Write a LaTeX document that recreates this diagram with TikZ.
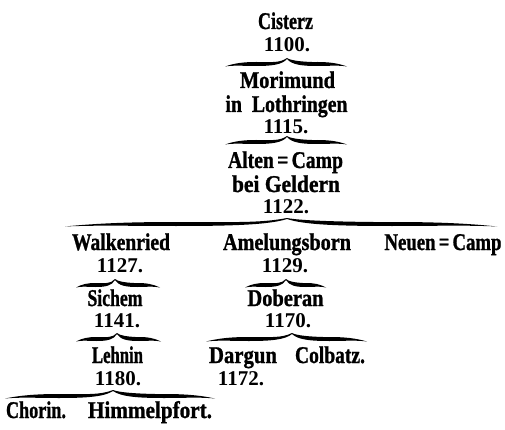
\documentclass[tikz,border=0pt]{standalone}
\usepackage{fontspec}
\usepackage{graphicx}
\newfontfamily\hvfont{Liberation Serif}[UprightFont=* Bold, FakeBold=1.2]
\newfontfamily\numfont{Liberation Serif}[UprightFont=* Bold]
\newcommand\fw[2]{\resizebox{#1pt}{\height}{#2}}
% curly brace pointing up: x-left, x-right, x-peak, y of body
\newcommand\fbr[4]{%
  \pgfmathsetmacro\bL{#3-#1}%
  \pgfmathsetmacro\bR{#2-#3}%
  \fill (#1,{#4+2.5})
    .. controls ({#1+0.15*\bL},{#4-0.8}) and ({#1+0.3*\bL},{#4-2}) .. ({#1+0.5*\bL},{#4-2})
    .. controls ({#1+0.75*\bL},{#4-2}) and ({#3-0.12*\bL},{#4-0.8}) .. (#3,{#4-6})
    .. controls ({#3+0.12*\bR},{#4-0.8}) and ({#2-0.25*\bR},{#4-2}) .. ({#2-0.5*\bR},{#4-2})
    .. controls ({#2-0.3*\bR},{#4-2}) and ({#2-0.15*\bR},{#4-0.8}) .. (#2,{#4+2.5})
    .. controls ({#2-0.15*\bR},{#4+1}) and ({#2-0.3*\bR},{#4+2}) .. ({#2-0.5*\bR},{#4+2})
    .. controls ({#2-0.75*\bR},{#4+2}) and ({#3+0.08*\bR},{#4+0.8}) .. (#3,{#4-5})
    .. controls ({#3-0.08*\bL},{#4+0.8}) and ({#1+0.75*\bL},{#4+2}) .. ({#1+0.5*\bL},{#4+2})
    .. controls ({#1+0.3*\bL},{#4+2}) and ({#1+0.15*\bL},{#4+1}) .. (#1,{#4+2.5}) -- cycle;}
\begin{document}
\begin{tikzpicture}[x=1pt,y=-1pt,
  fk/.style={anchor=base,inner sep=0pt,font=\fontsize{24}{27}\selectfont\hvfont},
  nm/.style={anchor=base,inner sep=0pt,font=\fontsize{21}{26}\selectfont\numfont}]
\useasboundingbox[fill=white] (0,0) rectangle (505,430);
% top chain
\node[fk] (cist) at (285.5,29) {\fw{55}{Cisterz}};
\node[nm] (y1100) at (287,52) {1100.};
\fbr{225}{347}{287}{64}
\node[fk] (mori) at (287.5,88) {\fw{95}{Morimund}};
\node[fk] (loth) at (286.5,112) {\fw{122}{in\ \ Lothringen}};
\node[nm] (y1115) at (286,134) {1115.};
\fbr{225}{347}{287}{142}
\node[fk] (alten) at (285.5,168) {\fw{115}{Alten\,=\,Camp}};
\node[fk] (geld) at (286,192) {\fw{108}{bei Geldern}};
\node[nm] (y1122) at (286,214) {1122.};
\fbr{65}{497}{287}{224}
% second row
\node[fk] (walk) at (121,250) {\fw{98}{Walkenried}};
\node[nm] (y1127) at (120,272) {1127.};
\node[fk] (amel) at (287,250) {\fw{128}{Amelungsborn}};
\node[nm] (y1129) at (285,272) {1129.};
\node[fk] (neuen) at (443,250) {\fw{117}{Neuen\,=\,Camp}};
\fbr{76}{160}{115}{285}
\fbr{245}{326}{286}{285}
\node[fk] (sich) at (115,306) {\fw{55}{Sichem}};
\node[nm] (y1141) at (117,327) {1141.};
\node[fk] (dob) at (285.5,306) {\fw{76}{Doberan}};
\node[nm] (y1170) at (288,327) {1170.};
\fbr{76}{161}{117}{339}
\fbr{206}{367}{292}{339}
\node[fk] (lehn) at (117.5,363) {\fw{51}{Lehnin}};
\node[nm] (y1180) at (118,385) {1180.};
\node[fk] (darg) at (243,363) {\fw{68}{Dargun}};
\node[nm] (y1172) at (241,385) {1172.};
\node[fk] (colb) at (330,363) {\fw{70}{Colbatz.}};
\fbr{5}{215}{113}{396}
\node[fk] (chor) at (36,418) {\fw{60}{Chorin.}};
\node[fk] (himm) at (150,418) {\fw{124}{Himmelpfort.}};
\end{tikzpicture}
\end{document}
